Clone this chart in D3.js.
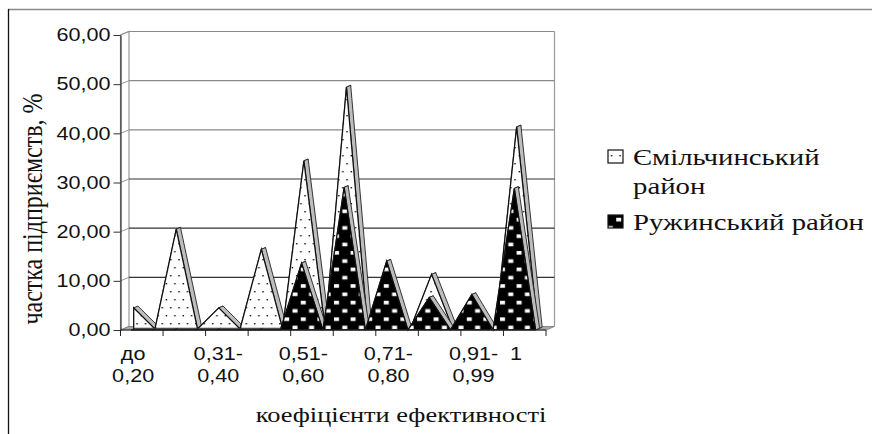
<!DOCTYPE html>
<html>
<head>
<meta charset="utf-8">
<script src="https://cdn.jsdelivr.net/npm/d3@7"></script>
<style>
  body { margin: 0; background: #fff; }
  .sans { font-family: "Liberation Sans", Arial, sans-serif; font-size: 18px; fill: #111; }
  .serif { font-family: "Liberation Serif", "Times New Roman", serif; fill: #111; }
</style>
</head>
<body>
<svg id="chart" width="872" height="434"></svg>
<script>
// categories of the efficiency coefficient (only some labels are printed)
const categories = ["до 0,20", "0,21-0,30", "0,31-0,40", "0,41-0,50", "0,51-0,60",
  "0,61-0,70", "0,71-0,80", "0,81-0,90", "0,91-0,99", "1"];
const labelledCategories = ["до 0,20", "0,31-0,40", "0,51-0,60", "0,71-0,80", "0,91-0,99", "1"];

// share of enterprises, %
const emilValues = [4.3, 20.3, 4.3, 16.2, 34.2, 49.2, 0, 11.1, 0, 41.1];
const ruzhValues = [0, 0, 0, 0, 13.6, 29.0, 14.0, 6.6, 7.2, 28.8];

const yTicks = [0, 10, 20, 30, 40, 50, 60];
const seriesNames = ["Ємільчинський район", "Ружинський район"];

const svg = d3.select("#chart");
const stretch = 1.2;          // the scanned chart is a bit wider than tall
const depth = [8.5, -3.5];    // 3d depth vector of the box

const x = d3.scaleBand().domain(categories).range([120.5, 546]);
const y = d3.scaleLinear().domain([0, 60]).range([330, 35]);
const bw = x.bandwidth();
const x0 = x.range()[0], x1 = x.range()[1];
const off = (f) => [depth[0] * f, depth[1] * f];
const line = d3.line();

// patterns
const defs = svg.append("defs");
const dots = defs.append("pattern").attr("id", "dots")
  .attr("patternUnits", "userSpaceOnUse").attr("width", 8.4).attr("height", 16);
dots.append("rect").attr("width", 8.4).attr("height", 16).attr("fill", "#fff");
dots.append("rect").attr("x", 2).attr("y", 3).attr("width", 1.4).attr("height", 1.4).attr("fill", "#000");
dots.append("rect").attr("x", 6.2).attr("y", 11).attr("width", 1.4).attr("height", 1.4).attr("fill", "#000");

const squares = defs.append("pattern").attr("id", "squares")
  .attr("patternUnits", "userSpaceOnUse").attr("width", 16.6).attr("height", 16.6);
squares.append("rect").attr("width", 16.6).attr("height", 16.6).attr("fill", "#000");
squares.append("rect").attr("x", 2).attr("y", 2).attr("width", 5).attr("height", 3.6).attr("fill", "#fff");
squares.append("rect").attr("x", 10.3).attr("y", 10.3).attr("width", 5).attr("height", 3.6).attr("fill", "#fff");

// outer frame
svg.append("line").attr("x1", 8).attr("y1", 9.5).attr("x2", 872).attr("y2", 9.5)
  .attr("stroke", "#888").attr("stroke-width", 1.5);
svg.append("line").attr("x1", 8.5).attr("y1", 9).attr("x2", 8.5).attr("y2", 434)
  .attr("stroke", "#111").attr("stroke-width", 1.3);

// walls, floor, gridlines
const [dx, dy] = depth;
svg.append("path")
  .attr("d", line([[x0, y(0)], [x0, y(60)], [x0 + dx, y(60) + dy], [x0 + dx, y(0) + dy]]) + "Z")
  .attr("fill", "#fff").attr("stroke", "#999").attr("stroke-width", 1.2);
svg.append("path")
  .attr("d", line([[x0, y(0)], [x1, y(0)], [x1 + dx, y(0) + dy], [x0 + dx, y(0) + dy]]) + "Z")
  .attr("fill", "#a8a8a8").attr("stroke", "#777").attr("stroke-width", 0.8);
svg.append("line")
  .attr("x1", x1 + dx).attr("y1", y(0) + dy).attr("x2", x1 + dx).attr("y2", y(60) + dy)
  .attr("stroke", "#999").attr("stroke-width", 1.2);

yTicks.filter(t => t > 0).forEach(t => {
  const c = t >= 40 ? "#8a8a8a" : "#333";
  svg.append("line")
    .attr("x1", x0 + dx).attr("y1", y(t) + dy).attr("x2", x1 + dx).attr("y2", y(t) + dy)
    .attr("stroke", c).attr("stroke-width", 1.1);
  svg.append("line")
    .attr("x1", x0).attr("y1", y(t)).attr("x2", x0 + dx).attr("y2", y(t) + dy)
    .attr("stroke", "#999").attr("stroke-width", 1);
});

// 3d area series: each category peak drops back to zero before the next one
function drawSeries(values, f0, f1, pattern) {
  const pts = categories.flatMap((c, i) => [
    [x(c) + bw / 4, values[i]],
    [x(c) + 3 * bw / 4, 0]
  ]);
  const [ax, ay] = off(f0);
  const [bx, by] = off(f1);
  const g = svg.append("g");

  for (let i = 0; i < pts.length - 1; i++) {
    const p = pts[i], q = pts[i + 1];
    g.append("path")
      .attr("d", line([
        [p[0] + ax, y(p[1]) + ay], [q[0] + ax, y(q[1]) + ay],
        [q[0] + bx, y(q[1]) + by], [p[0] + bx, y(p[1]) + by]
      ]) + "Z")
      .attr("fill", "#bdbdbd").attr("stroke", "#222").attr("stroke-width", 0.9)
      .attr("stroke-linejoin", "round");
  }

  const face = [[pts[0][0] + ax, y(0) + ay]]
    .concat(pts.map(p => [p[0] + ax, y(p[1]) + ay]))
    .concat([[pts[pts.length - 1][0] + ax, y(0) + ay]]);
  g.append("path")
    .attr("d", line(face) + "Z")
    .attr("fill", `url(#${pattern})`).attr("stroke", "#111").attr("stroke-width", 1.3)
    .attr("stroke-linejoin", "miter");
}

drawSeries(emilValues, 0.3, 0.8, "dots");
drawSeries(ruzhValues, 0.03, 0.5, "squares");

// y axis
const yAxis = svg.append("g")
  .attr("transform", `translate(${x0},0)`)
  .call(d3.axisLeft(y).tickValues(yTicks).tickSize(7).tickSizeOuter(0)
    .tickFormat(d => d.toFixed(2).replace(".", ",")));
yAxis.select(".domain").attr("stroke", "#333").attr("stroke-width", 1.2);
yAxis.selectAll(".tick line").attr("stroke", "#333");
yAxis.selectAll(".tick text")
  .attr("class", "sans")
  .attr("font-family", null).attr("font-size", null)
  .attr("x", -10 / stretch)
  .attr("transform", `scale(${stretch},1)`);

// x axis
svg.append("line").attr("x1", x0).attr("y1", y(0)).attr("x2", x1).attr("y2", y(0))
  .attr("stroke", "#222").attr("stroke-width", 1.2);
categories.map(c => x(c)).concat([x1]).forEach(t => {
  svg.append("line").attr("x1", t).attr("y1", y(0)).attr("x2", t).attr("y2", y(0) + 6)
    .attr("stroke", "#222").attr("stroke-width", 1);
});

labelledCategories.forEach(c => {
  const parts = c.replace(/^до /, "до\n").replace(/-/, "-\n").split("\n");
  const t = svg.append("text")
    .attr("class", "sans")
    .attr("text-anchor", "middle")
    .attr("transform", `translate(${x(c) + bw / 4 + 2},0) scale(${stretch},1)`);
  parts.forEach((s, i) => {
    t.append("tspan").attr("x", 0).attr("y", 360 + i * 22).text(s);
  });
});

// axis titles
svg.append("text")
  .attr("class", "serif")
  .attr("font-size", 22)
  .attr("text-anchor", "middle")
  .attr("transform", `translate(401,422) scale(${stretch},1)`)
  .text("коефіцієнти ефективності");

svg.append("text")
  .attr("class", "serif")
  .attr("font-size", 24)
  .attr("text-anchor", "middle")
  .attr("transform", `translate(42,209) scale(${stretch},1) rotate(-90)`)
  .text("частка підприємств, %");

// legend
const legend = svg.append("g");
const legendItems = [
  { lines: ["Ємільчинський", "район"], fill: "url(#dots)", y: 150 },
  { lines: ["Ружинський район"], fill: "url(#squares)", y: 215 }
];
legendItems.forEach((d, i) => {
  legend.append("rect")
    .attr("x", 608).attr("y", d.y).attr("width", 15).attr("height", 13)
    .attr("fill", d.fill).attr("stroke", "#111").attr("stroke-width", 1.2);
  const t = legend.append("text")
    .attr("class", "serif")
    .attr("font-size", 24)
    .attr("transform", `translate(633,0) scale(${stretch},1)`);
  d.lines.forEach((s, k) => {
    t.append("tspan").attr("x", 0).attr("y", d.y + 15 + k * 29).text(s);
  });
});
</script>
</body>
</html>
